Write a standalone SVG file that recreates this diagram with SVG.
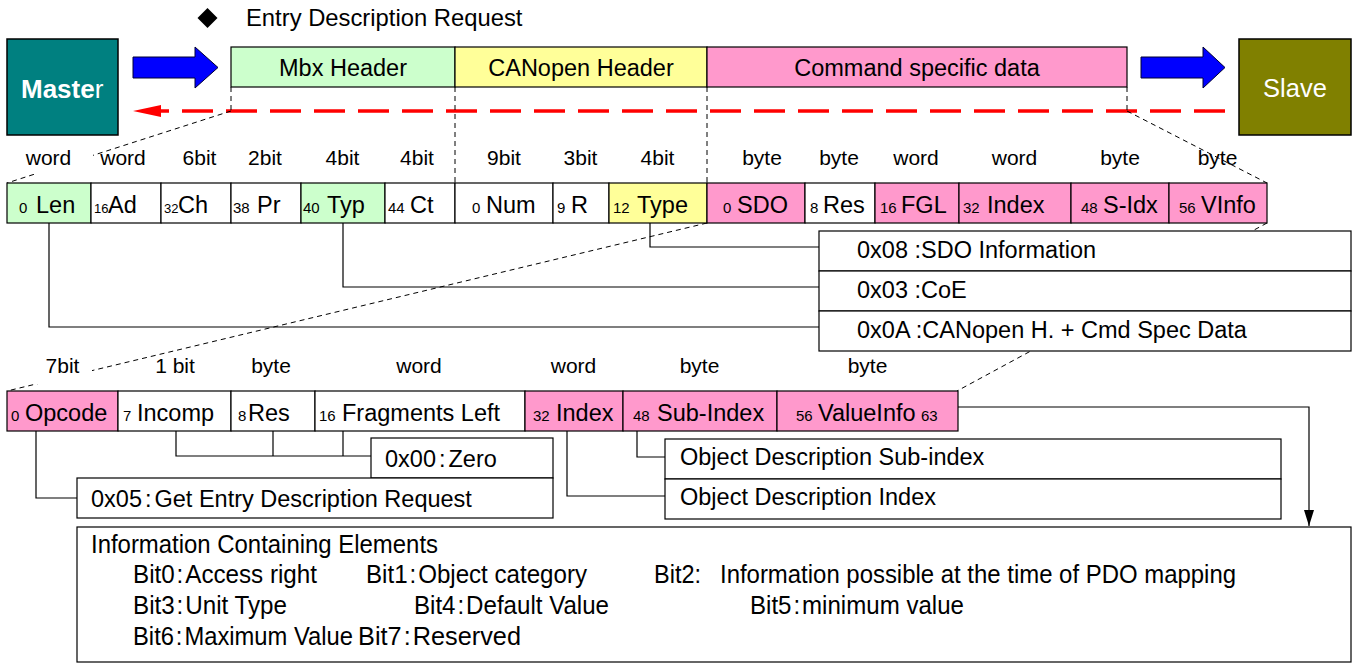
<svg xmlns="http://www.w3.org/2000/svg" width="1356" height="664" viewBox="0 0 1356 664">
  <defs>
    <style>
      text { font-family: "Liberation Sans", Arial, sans-serif; fill: #000; }
      .box { stroke: #000; stroke-width: 1.2; }
      .g { fill: #ccffcc; }
      .y { fill: #ffff99; }
      .p { fill: #ff99cc; }
      .w { fill: #ffffff; }
      .h { font-size: 23.5px; text-anchor: middle; }
      .lbl { font-size: 21px; text-anchor: middle; }
      .fn { font-size: 23.5px; }
      .sn { font-size: 15px; }
      .tx { font-size: 23.5px; }
      .bt { font-size: 25px; }
      .dash { stroke: #000; stroke-width: 1; stroke-dasharray: 5 4; fill: none; }
      .conn { stroke: #000; stroke-width: 1.2; fill: none; }
      .blue { fill: #0000ff; stroke: #000033; stroke-width: 1; }
    </style>
    <marker id="ah" viewBox="0 -5 16 10" refX="16" refY="0" markerWidth="16" markerHeight="10" markerUnits="userSpaceOnUse" orient="auto">
      <path d="M0,-5 L16,0 L0,5 z" fill="#000"/>
    </marker>
  </defs>

  <!-- title -->
  <g id="title">
    <polygon points="207.5,8 217.5,18 207.5,28 197.5,18" fill="#000"/>
    <text x="246" y="26" style="font-size:23.8px">Entry Description Request</text>
  </g>

  <!-- endpoints -->
  <g id="master">
    <rect x="7" y="39" width="111" height="96" fill="#008080" stroke="#000" stroke-width="1.5"/>
    <text x="21" y="98" style="font-size:26px;fill:#fff"><tspan font-weight="bold">Maste</tspan><tspan>r</tspan></text>
  </g>
  <g id="slave">
    <rect x="1239" y="39" width="112" height="96" fill="#808000" stroke="#000" stroke-width="1.5"/>
    <text x="1295" y="97" style="font-size:25.5px;fill:#fff;text-anchor:middle">Slave</text>
  </g>

  <!-- direction arrows -->
  <g id="arrows">
    <polygon class="blue" points="133,57 195,57 195,47 218,67.5 195,88 195,78 133,78"/>
    <polygon class="blue" points="1141,57 1203,57 1203,47 1225,67.5 1203,88 1203,78 1141,78"/>
    <line x1="1225" y1="111" x2="160" y2="111" stroke="#ff0000" stroke-width="3.5" stroke-dasharray="31 13"/>
    <polygon points="133,111 161,105 161,117" fill="#ff0000"/>
  </g>

  <!-- expansion guide lines -->
  <g id="guides">
    <line class="dash" x1="231" y1="87" x2="231" y2="111"/>
    <line class="dash" x1="231" y1="111" x2="7" y2="183"/>
    <line class="dash" x1="455" y1="87" x2="455" y2="183"/>
    <line class="dash" x1="707" y1="87" x2="707" y2="183"/>
    <line class="dash" x1="1127" y1="87" x2="1127" y2="111"/>
    <line class="dash" x1="1127" y1="111" x2="1267" y2="183"/>
    <line class="dash" x1="707" y1="223" x2="7" y2="391"/>
    <line class="dash" x1="1267" y1="223" x2="957" y2="391"/>
  </g>

  <!-- frame overview -->
  <g id="frame">
    <rect class="box g" x="231" y="47" width="224" height="40"/>
    <rect class="box y" x="455" y="47" width="252" height="40"/>
    <rect class="box p" x="707" y="47" width="420" height="40"/>
    <text class="h" x="343" y="76">Mbx Header</text>
    <text class="h" x="581" y="76">CANopen Header</text>
    <text class="h" x="917" y="76">Command specific data</text>
  </g>

  <!-- field size labels, first level -->
  <g id="sizes1">
    <rect x="25" y="143" width="68" height="31" fill="#fff"/>
    <text class="lbl" x="48.5" y="165">word</text>
    <text class="lbl" x="123" y="165">word</text>
    <text class="lbl" x="199.5" y="165">6bit</text>
    <text class="lbl" x="265" y="165">2bit</text>
    <text class="lbl" x="342.5" y="165">4bit</text>
    <text class="lbl" x="417" y="165">4bit</text>
    <text class="lbl" x="504" y="165">9bit</text>
    <text class="lbl" x="580.5" y="165">3bit</text>
    <text class="lbl" x="657.5" y="165">4bit</text>
    <text class="lbl" x="762" y="165">byte</text>
    <text class="lbl" x="839" y="165">byte</text>
    <text class="lbl" x="916" y="165">word</text>
    <text class="lbl" x="1014.5" y="165">word</text>
    <text class="lbl" x="1120" y="165">byte</text>
    <text class="lbl" x="1217.5" y="165">byte</text>
  </g>

  <!-- first level fields -->
  <g id="fields1">
    <rect class="box g" x="7" y="183" width="84" height="40"/>
    <rect class="box w" x="91" y="183" width="70" height="40"/>
    <rect class="box w" x="161" y="183" width="70" height="40"/>
    <rect class="box w" x="231" y="183" width="70" height="40"/>
    <rect class="box g" x="301" y="183" width="84" height="40"/>
    <rect class="box w" x="385" y="183" width="70" height="40"/>
    <rect class="box w" x="455" y="183" width="98" height="40"/>
    <rect class="box w" x="553" y="183" width="56" height="40"/>
    <rect class="box y" x="609" y="183" width="98" height="40"/>
    <rect class="box p" x="707" y="183" width="98" height="40"/>
    <rect class="box w" x="805" y="183" width="70" height="40"/>
    <rect class="box p" x="875" y="183" width="84" height="40"/>
    <rect class="box p" x="959" y="183" width="112" height="40"/>
    <rect class="box p" x="1071" y="183" width="98" height="40"/>
    <rect class="box p" x="1169" y="183" width="98" height="40"/>
    <text class="fn" y="213"><tspan class="sn" x="19">0</tspan><tspan x="36">Len</tspan></text>
    <text class="fn" y="213"><tspan x="94" style="font-size:13px">16</tspan><tspan x="108">Ad</tspan></text>
    <text class="fn" y="213"><tspan x="164" style="font-size:13px">32</tspan><tspan x="178">Ch</tspan></text>
    <text class="fn" y="213"><tspan class="sn" x="233">38</tspan><tspan x="257">Pr</tspan></text>
    <text class="fn" y="213"><tspan class="sn" x="303">40</tspan><tspan x="327">Typ</tspan></text>
    <text class="fn" y="213"><tspan class="sn" x="388">44</tspan><tspan x="410">Ct</tspan></text>
    <text class="fn" y="213"><tspan class="sn" x="472">0</tspan><tspan x="486">Num</tspan></text>
    <text class="fn" y="213"><tspan class="sn" x="557">9</tspan><tspan x="571">R</tspan></text>
    <text class="fn" y="213"><tspan class="sn" x="613">12</tspan><tspan x="637">Type</tspan></text>
    <text class="fn" y="213"><tspan class="sn" x="723">0</tspan><tspan x="737">SDO</tspan></text>
    <text class="fn" y="213"><tspan class="sn" x="810">8</tspan><tspan x="823">Res</tspan></text>
    <text class="fn" y="213"><tspan class="sn" x="880">16</tspan><tspan x="901">FGL</tspan></text>
    <text class="fn" y="213"><tspan class="sn" x="963">32</tspan><tspan x="987">Index</tspan></text>
    <text class="fn" y="213"><tspan class="sn" x="1081">48</tspan><tspan x="1103">S-Idx</tspan></text>
    <text class="fn" y="213"><tspan class="sn" x="1179">56</tspan><tspan x="1201">VInfo</tspan></text>
  </g>

  <!-- first level value table -->
  <g id="values1">
    <rect class="box w" x="819" y="231" width="532" height="40"/>
    <rect class="box w" x="819" y="271" width="532" height="40"/>
    <rect class="box w" x="819" y="311" width="532" height="40"/>
    <text class="tx" x="857" y="258">0x08 :SDO Information</text>
    <text class="tx" x="857" y="298">0x03 :CoE</text>
    <text class="tx" x="857" y="338">0x0A :CANopen H. + Cmd Spec Data</text>
  </g>

  <!-- field size labels, second level -->
  <g id="sizes2">
    <rect x="37" y="352" width="55" height="32" fill="#fff"/>
    <text class="lbl" x="62.5" y="373">7bit</text>
    <text class="lbl" x="175" y="373">1 bit</text>
    <text class="lbl" x="271" y="373">byte</text>
    <text class="lbl" x="419" y="373">word</text>
    <text class="lbl" x="573.5" y="373">word</text>
    <text class="lbl" x="699.5" y="373">byte</text>
    <text class="lbl" x="867.5" y="373">byte</text>
  </g>

  <!-- second level fields -->
  <g id="fields2">
    <rect class="box p" x="7" y="391" width="111" height="40"/>
    <rect class="box w" x="118" y="391" width="113" height="40"/>
    <rect class="box w" x="231" y="391" width="84" height="40"/>
    <rect class="box w" x="315" y="391" width="210" height="40"/>
    <rect class="box p" x="525" y="391" width="98" height="40"/>
    <rect class="box p" x="623" y="391" width="154" height="40"/>
    <rect class="box p" x="777" y="391" width="181" height="40"/>
    <text class="fn" y="421"><tspan class="sn" x="11">0</tspan><tspan x="25">Opcode</tspan></text>
    <text class="fn" y="421"><tspan class="sn" x="123">7</tspan><tspan x="137">Incomp</tspan></text>
    <text class="fn" y="421"><tspan class="sn" x="238">8</tspan><tspan x="248">Res</tspan></text>
    <text class="fn" y="421"><tspan class="sn" x="319">16</tspan><tspan x="342">Fragments Left</tspan></text>
    <text class="fn" y="421"><tspan class="sn" x="533">32</tspan><tspan x="556">Index</tspan></text>
    <text class="fn" y="421"><tspan class="sn" x="633">48</tspan><tspan x="657">Sub-Index</tspan></text>
    <text class="fn" y="421"><tspan class="sn" x="796">56</tspan><tspan x="818">ValueInfo</tspan><tspan class="sn" x="921">63</tspan></text>
  </g>

  <!-- second level value boxes -->
  <g id="values2">
    <rect class="box w" x="371" y="438" width="182" height="40"/>
    <rect class="box w" x="77" y="478" width="476" height="40"/>
    <rect class="box w" x="665" y="439" width="616" height="40"/>
    <rect class="box w" x="665" y="479" width="616" height="40"/>
    <text class="tx" x="385" y="467">0x00<tspan dx="3">:</tspan><tspan dx="3">Zero</tspan></text>
    <text class="tx" x="91" y="507">0x05<tspan dx="3">:</tspan><tspan dx="3">Get Entry Description Request</tspan></text>
    <text class="tx" x="680" y="465">Object Description Sub-index</text>
    <text class="tx" x="680" y="505">Object Description Index</text>
  </g>

  <!-- ValueInfo bit list -->
  <g id="valueinfo">
    <rect class="box w" x="77" y="527" width="1274" height="135"/>
    <text class="bt" x="91" y="553" textLength="347" lengthAdjust="spacingAndGlyphs">Information Containing Elements</text>
    <text class="bt" x="133" y="583" textLength="184" lengthAdjust="spacingAndGlyphs">Bit0<tspan dx="2">:</tspan><tspan dx="2">Access right</tspan></text>
    <text class="bt" x="366" y="583" textLength="221" lengthAdjust="spacingAndGlyphs">Bit1<tspan dx="2">:</tspan><tspan dx="2">Object category</tspan></text>
    <text class="bt" x="654" y="583" textLength="47" lengthAdjust="spacingAndGlyphs">Bit2:</text>
    <text class="bt" x="720" y="583" textLength="516" lengthAdjust="spacingAndGlyphs">Information possible at the time of PDO mapping</text>
    <text class="bt" x="133" y="614" textLength="154" lengthAdjust="spacingAndGlyphs">Bit3<tspan dx="2">:</tspan><tspan dx="2">Unit Type</tspan></text>
    <text class="bt" x="414" y="614" textLength="195" lengthAdjust="spacingAndGlyphs">Bit4<tspan dx="2">:</tspan><tspan dx="2">Default Value</tspan></text>
    <text class="bt" x="750" y="614" textLength="214" lengthAdjust="spacingAndGlyphs">Bit5<tspan dx="2">:</tspan><tspan dx="2">minimum value</tspan></text>
    <text class="bt" x="133" y="645" textLength="220" lengthAdjust="spacingAndGlyphs">Bit6<tspan dx="2">:</tspan><tspan dx="2">Maximum Value</tspan></text>
    <text class="bt" x="358" y="645" textLength="163" lengthAdjust="spacingAndGlyphs">Bit7<tspan dx="2">:</tspan><tspan dx="2">Reserved</tspan></text>
  </g>

  <!-- connectors -->
  <g id="connectors" class="conn">
    <path d="M650,223 V247 H819"/>
    <path d="M343,223 V287 H819"/>
    <path d="M49,223 V327 H819"/>
    <path d="M176,431 V456 H371"/>
    <path d="M273,431 V456"/>
    <path d="M343,431 V456"/>
    <path d="M36,431 V498 H77"/>
    <path d="M567,431 V496 H665"/>
    <path d="M637,431 V457 H665"/>
    <path d="M958,407 H1309 V526" marker-end="url(#ah)"/>
  </g>
</svg>
